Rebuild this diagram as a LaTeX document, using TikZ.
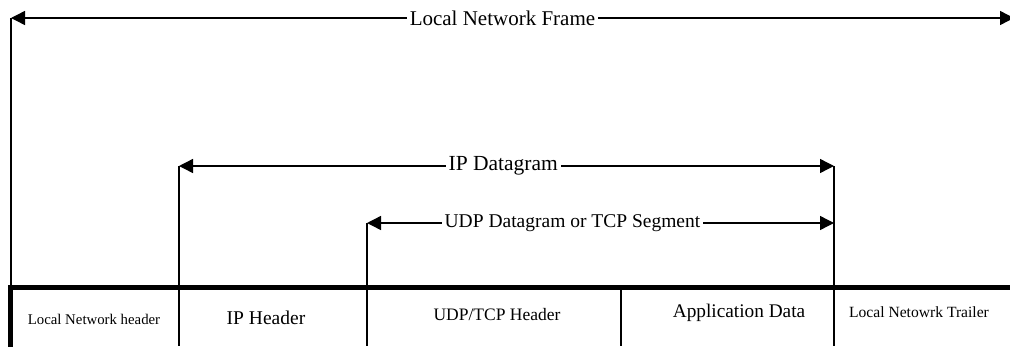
\documentclass[tikz,border=0pt]{standalone}
\usepackage{fontspec}
\setmainfont{Liberation Serif}
\usetikzlibrary{arrows.meta}
\begin{document}
\begin{tikzpicture}[x=1pt,y=-1pt,
  rule/.style={line width=1.4pt},
  heavy/.style={line width=5pt},
  span/.style={rule,{Triangle[length=14pt,width=14pt]}-{Triangle[length=14pt,width=14pt]}},
  spanlabel/.style={fill=white,inner xsep=3pt,inner ysep=1pt},
  cell/.style={inner sep=0pt,anchor=center}]
\useasboundingbox (0,0) rectangle (1010,346);

% frame edges (vertical guides)
\coordinate (frameL) at (11,18);
\coordinate (frameR) at (1014,18);
\coordinate (frameLb) at (11,285);
\coordinate (ipL) at (179,166);
\coordinate (ipR) at (834,166);
\coordinate (ipLb) at (179,346);
\coordinate (ipRb) at (834,346);
\coordinate (tpL) at (367,223);
\coordinate (tpR) at (834,223);
\coordinate (tpLb) at (367,346);
\coordinate (appT) at (621,289);
\coordinate (appB) at (621,346);

% span arrows with their labels
\draw[span] (frameL) -- node[spanlabel,pos=0.49] (lfr) {\fontsize{21}{24}\selectfont Local Network Frame} (frameR);
\draw[span] (ipL) -- node[spanlabel,pos=0.495] (ipd) {\fontsize{21.5}{24}\selectfont IP Datagram} (ipR);
\draw[span] (tpL) -- node[spanlabel,pos=0.44] (tcp) {\fontsize{19.5}{22}\selectfont UDP Datagram or TCP Segment} (tpR);

% vertical boundaries
\draw[rule] (frameL) -- (frameLb);
\draw[rule] (ipL) -- (ipLb);
\draw[rule] (ipR) -- (ipRb);
\draw[rule] (tpL) -- (tpLb);
\draw[rule] (appT) -- (appB);

% heavy outline of the frame row
\coordinate (rowL) at (8,287);
\coordinate (rowR) at (1014,287);
\coordinate (edgeT) at (10,285);
\coordinate (edgeB) at (10,350);
\draw[heavy] (rowL) -- (rowR);
\draw[heavy] (edgeT) -- (edgeB);

% field names
\node[cell] (lnh) at (94,319) {\fontsize{14.8}{17}\selectfont Local Network header};
\node[cell] (iph) at (266,318) {\fontsize{19.5}{22}\selectfont IP Header};
\node[cell] (tph) at (497,315) {\fontsize{17.5}{20}\selectfont UDP/TCP Header};
\node[cell] (app) at (739,313) {\fontsize{19.3}{22}\selectfont Application Data};
\node[cell] (lnt) at (919,312) {\fontsize{15.6}{18}\selectfont Local Netowrk Trailer};
\end{tikzpicture}
\end{document}
